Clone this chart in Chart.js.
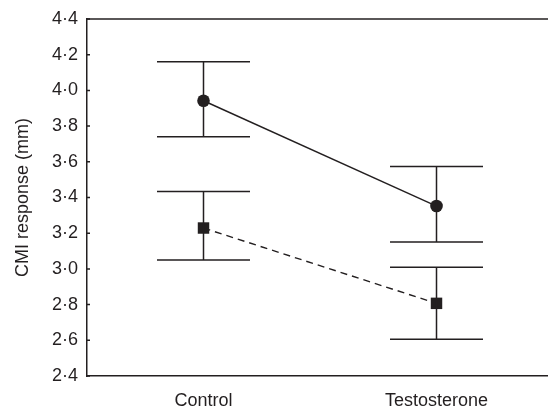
<!DOCTYPE html>
<html>
<head>
<meta charset="utf-8">
<script src="https://cdn.jsdelivr.net/npm/chart.js@4"></script>
<style>
html,body{margin:0;padding:0;background:#fff;}
#wrap{width:548px;height:414px;}
</style>
</head>
<body>
<div id="wrap"><canvas id="c" width="548" height="414"></canvas></div>
<script>
const categories = ['Control', 'Testosterone'];
const circleMeans = [3.942, 3.352];
const circleUpper = [4.161, 3.573];
const circleLower = [3.741, 3.151];
const squareMeans = [3.229, 2.807];
const squareUpper = [3.433, 3.009];
const squareLower = [3.050, 2.606];
const yTicks = [2.4, 2.6, 2.8, 3.0, 3.2, 3.4, 3.6, 3.8, 4.0, 4.2, 4.4];

const INK = '#231f20';
const FONT = "'Liberation Sans', Arial, Helvetica, sans-serif";

const toPoints = arr => arr.map((v, i) => ({ x: i, y: v }));

const errorBars = {
  id: 'errorBars',
  afterDatasetsDraw(chart) {
    const ctx = chart.ctx;
    const x = chart.scales.x, y = chart.scales.y;
    const sets = [[circleUpper, circleLower], [squareUpper, squareLower]];
    ctx.save();
    ctx.strokeStyle = INK;
    ctx.lineWidth = 1.5;
    const half = 46.5;
    sets.forEach(([up, lo]) => {
      categories.forEach((c, i) => {
        const px = x.getPixelForValue(i);
        const pu = y.getPixelForValue(up[i]);
        const pl = y.getPixelForValue(lo[i]);
        ctx.beginPath();
        ctx.moveTo(px, pu); ctx.lineTo(px, pl);
        ctx.moveTo(px - half, pu); ctx.lineTo(px + half, pu);
        ctx.moveTo(px - half, pl); ctx.lineTo(px + half, pl);
        ctx.stroke();
      });
    });
    ctx.restore();
  }
};

const frame = {
  id: 'frame',
  afterDraw(chart) {
    const ctx = chart.ctx;
    const a = chart.chartArea;
    const y = chart.scales.y;
    ctx.save();
    ctx.strokeStyle = INK;
    ctx.lineWidth = 1.5;
    ctx.beginPath();
    ctx.moveTo(a.left, a.top);
    ctx.lineTo(chart.width, a.top);
    ctx.stroke();
    ctx.beginPath();
    y.ticks.forEach(t => {
      const py = y.getPixelForValue(t.value);
      ctx.moveTo(a.left, py);
      ctx.lineTo(a.left + 3, py);
    });
    ctx.stroke();
    ctx.restore();
  }
};

new Chart(document.getElementById('c'), {
  type: 'line',
  data: {
    datasets: [
      {
        data: toPoints(circleMeans),
        borderColor: INK,
        backgroundColor: INK,
        borderWidth: 1.4,
        pointStyle: 'circle',
        pointRadius: 6.3,
        pointBackgroundColor: INK,
        pointBorderWidth: 0,
        tension: 0
      },
      {
        data: toPoints(squareMeans),
        borderColor: INK,
        backgroundColor: INK,
        borderWidth: 1.4,
        borderDash: [7, 5],
        pointStyle: 'rect',
        pointRadius: 8.1,
        pointBackgroundColor: INK,
        pointBorderWidth: 0,
        tension: 0
      }
    ]
  },
  options: {
    responsive: false,
    devicePixelRatio: 1,
    animation: false,
    events: [],
    layout: { autoPadding: false, padding: { top: 19, right: 0, left: 0, bottom: 0 } },
    plugins: { legend: { display: false }, tooltip: { enabled: false } },
    scales: {
      x: {
        type: 'linear',
        min: -0.5,
        max: 1.4785,
        afterBuildTicks(s) { s.ticks = categories.map((c, i) => ({ value: i })); },
        grid: { display: false, drawTicks: false },
        border: { display: true, color: INK, width: 1.5 },
        ticks: {
          color: INK,
          font: { family: FONT, size: 18 },
          padding: 14,
          maxRotation: 0,
          autoSkip: false,
          callback: v => categories[Math.round(v)] ?? ''
        },
        afterFit(s) { s.height = 38; s.paddingLeft = 0; s.paddingRight = 0; }
      },
      y: {
        min: 2.4,
        max: 4.4,
        afterBuildTicks(s) { s.ticks = yTicks.map(v => ({ value: v })); },
        grid: { display: false, drawTicks: false },
        border: { display: true, color: INK, width: 1.5 },
        ticks: {
          color: INK,
          font: { family: FONT, size: 18 },
          padding: 9,
          callback: v => Number(v).toFixed(1).replace('.', '·')
        },
        title: {
          display: true,
          text: 'CMI response (mm)',
          color: INK,
          font: { family: FONT, size: 18 },
          padding: { top: 12, bottom: 0 }
        },
        afterFit(s) { s.width = 87; s.paddingTop = 0; s.paddingBottom = 0; }
      }
    }
  },
  plugins: [errorBars, frame]
});
</script>
</body>
</html>
